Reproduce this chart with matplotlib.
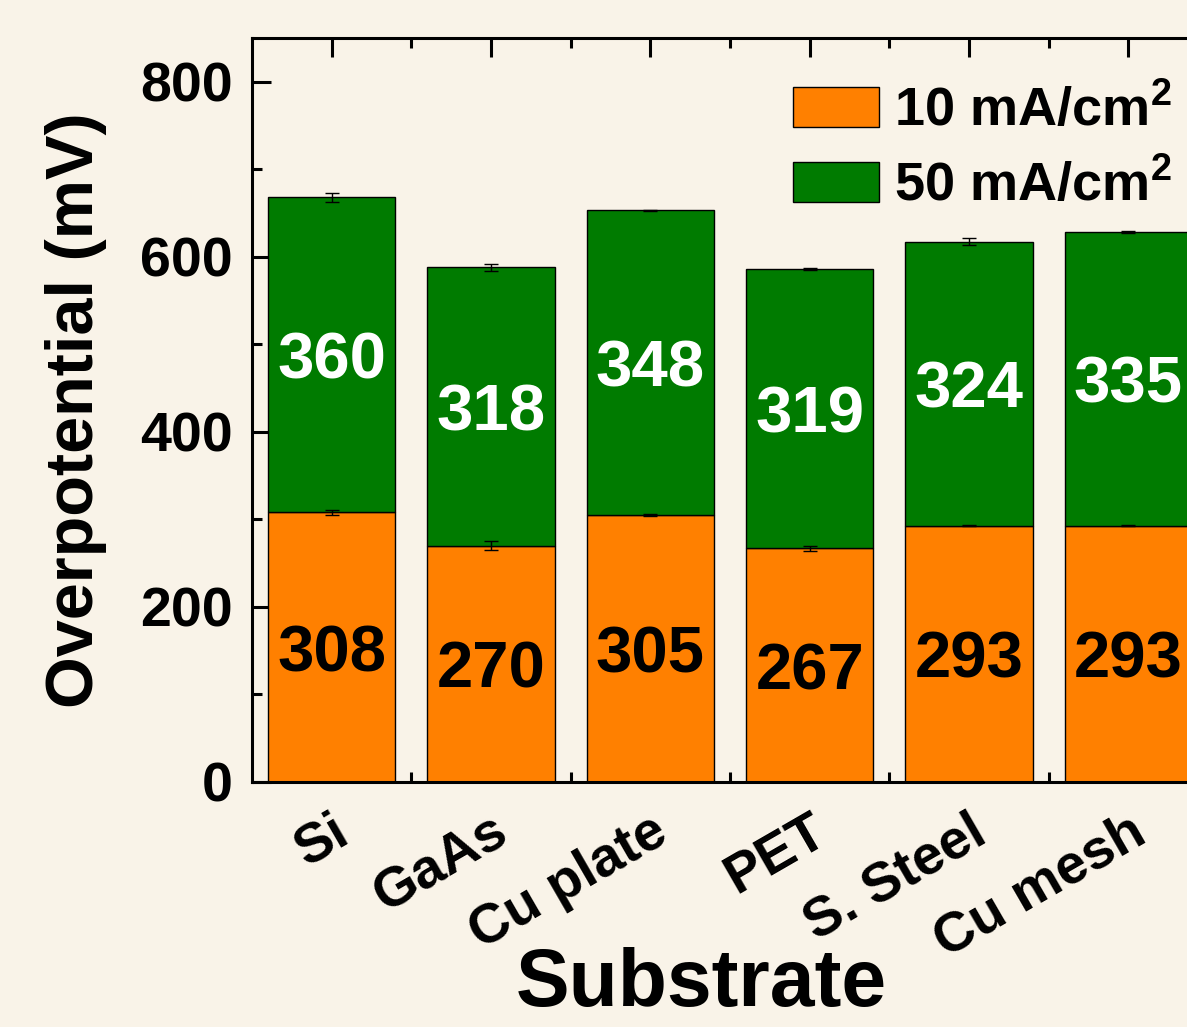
import numpy as np
import matplotlib
matplotlib.use("Agg")
import matplotlib.pyplot as plt
from matplotlib.ticker import MultipleLocator

# data
substrates = ["Si", "GaAs", "Cu plate", "PET", "S. Steel", "Cu mesh"]
eta_10 = [308, 270, 305, 267, 293, 293]
eta_50_extra = [360, 318, 348, 319, 324, 335]
err_10 = [3, 5, 1, 3, 1, 1]
err_50 = [5, 4, 1, 1, 4, 1]

bg = "#F9F3E8"
orange = "#FF8000"
green = "#007B00"

plt.rcParams["font.family"] = ["Liberation Sans", "DejaVu Sans"]
plt.rcParams["font.weight"] = "bold"
plt.rcParams["mathtext.fontset"] = "custom"
plt.rcParams["mathtext.rm"] = "Liberation Sans:bold"
plt.rcParams["mathtext.bf"] = "Liberation Sans:bold"
plt.rcParams["mathtext.default"] = "bf"

fig = plt.figure(figsize=(11.87, 10.27), dpi=100, facecolor=bg)
ax = fig.add_axes([252 / 1187, 1 - 782 / 1027, 956 / 1187, 744 / 1027])
ax.set_facecolor(bg)

x = np.arange(len(substrates))
tops = [a + b for a, b in zip(eta_10, eta_50_extra)]

ax.bar(x, eta_10, width=0.8, color=orange, edgecolor="black", linewidth=1.0,
       label="10 mA/cm$^{2}$", zorder=2)
ax.bar(x, eta_50_extra, width=0.8, bottom=eta_10, color=green, edgecolor="black",
       linewidth=1.0, label="50 mA/cm$^{2}$", zorder=2)
ax.errorbar(x, eta_10, yerr=err_10, fmt="none", ecolor="black", elinewidth=1.0,
            capsize=5, capthick=1.0, zorder=3)
ax.errorbar(x, tops, yerr=err_50, fmt="none", ecolor="black", elinewidth=1.0,
            capsize=5, capthick=1.0, zorder=3)

# segment values, centred in each segment (nudged a little for the font's descent)
for i in range(len(substrates)):
    ax.annotate(str(eta_10[i]), (x[i], eta_10[i] / 2), xytext=(0, -5),
                textcoords="offset points", ha="center", va="center",
                fontsize=47, fontweight="bold", color="black", zorder=4)
    ax.annotate(str(eta_50_extra[i]), (x[i], eta_10[i] + eta_50_extra[i] / 2),
                xytext=(0, -5), textcoords="offset points", ha="center",
                va="center", fontsize=47, fontweight="bold", color="white",
                zorder=4)

ax.set_xlim(-0.5, 5.5)
ax.set_ylim(0, 850)
ax.yaxis.set_major_locator(MultipleLocator(200))
ax.yaxis.set_minor_locator(MultipleLocator(100))
ax.set_xticks(x)
ax.set_xticks(x[:-1] + 0.5, minor=True)
ax.set_xticklabels(substrates, rotation=30, ha="right", va="top",
                   rotation_mode="anchor")

ax.tick_params(which="both", direction="in", top=True, right=False, width=2.2)
ax.tick_params(which="major", length=14)
ax.tick_params(which="minor", length=7)
ax.tick_params(axis="y", labelsize=40, pad=14)
ax.tick_params(axis="x", labelsize=40, pad=17)
for s in ax.spines.values():
    s.set_linewidth(2.2)

ax.set_ylabel("Overpotential (mV)", fontsize=48, fontweight="bold")
ax.yaxis.set_label_coords(-0.152, 0.5)
ax.set_xlabel("Substrate", fontsize=58, fontweight="bold")
ax.xaxis.set_label_coords(0.47, -0.222)

leg = ax.legend(loc="upper left", bbox_to_anchor=(793 / 1187, 1 - 85 / 1027),
                bbox_transform=fig.transFigure, frameon=False, fontsize=39,
                handlelength=1.58, handleheight=0.76, handletextpad=0.28,
                labelspacing=0.42, borderpad=0, borderaxespad=0)

fig.savefig("out.png", dpi=100, facecolor=bg)
